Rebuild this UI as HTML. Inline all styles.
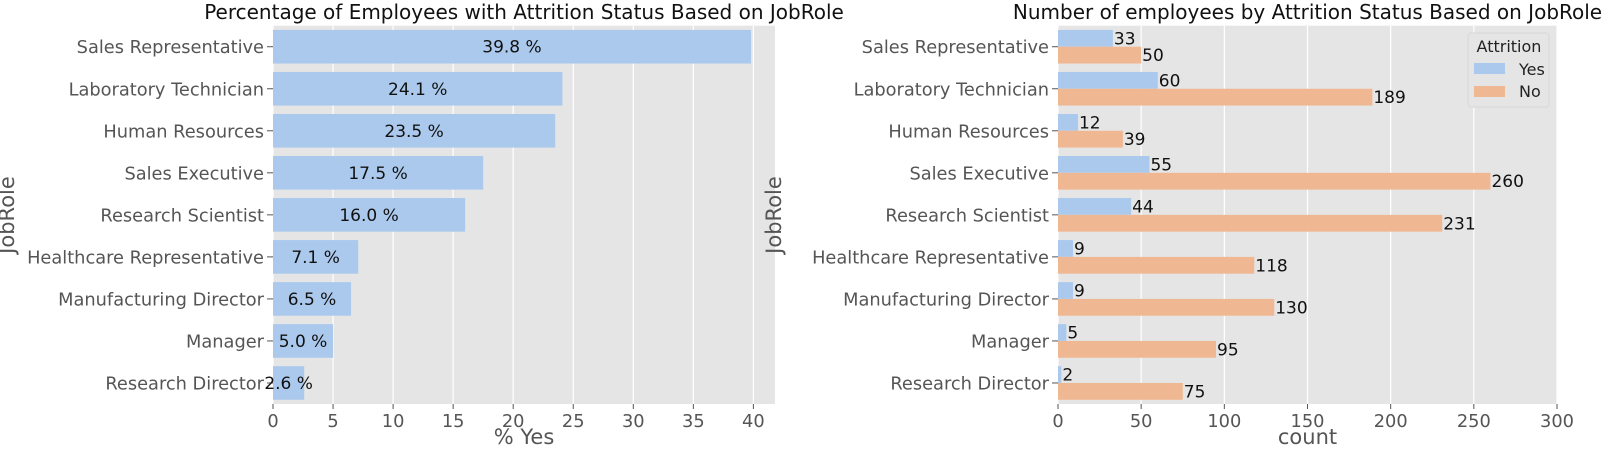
<!DOCTYPE html>
<html><head><meta charset="utf-8"><style>
body{margin:0;background:#fff;}
svg{display:block;font-family:"DejaVu Sans","Liberation Sans",sans-serif;}
</style></head><body>
<svg id="c" width="1609" height="455" viewBox="0 0 1609 455" xmlns="http://www.w3.org/2000/svg"></svg>
<script>
const roles = ["Sales Representative","Laboratory Technician","Human Resources","Sales Executive","Research Scientist","Healthcare Representative","Manufacturing Director","Manager","Research Director"];
const pctYes = [39.8,24.1,23.5,17.5,16.0,7.1,6.5,5.0,2.6];
const countYes = [33,60,12,55,44,9,9,5,2];
const countNo = [50,189,39,260,231,118,130,95,75];
const leftTicks = [0,5,10,15,20,25,30,35,40];
const rightTicks = [0,50,100,150,200,250,300];

const NS="http://www.w3.org/2000/svg";
const svg=document.getElementById('c');
function el(tag,attrs,parent,text){const e=document.createElementNS(NS,tag);for(const k in attrs)e.setAttribute(k,attrs[k]);if(text!==undefined)e.textContent=text;(parent||svg).appendChild(e);return e;}

const plotTop=25.7,plotBottom=404,pitch=(plotBottom-plotTop)/9;
function yc(i){return plotTop+pitch*(i+0.5);}

function panel(name,x0,x1,xmax,ticks,title,xlabel){
  const g=el('g',{},svg);
  
  
  const xs=v=>x0+(x1-x0)*v/xmax;
  const bg=el('rect',{x:x0,y:plotTop,width:x1-x0,height:plotBottom-plotTop,fill:'#e5e5e5'},g);
  
  
  ticks.forEach(t=>{
    const gl=el('line',{x1:xs(t),x2:xs(t),y1:plotTop,y2:plotBottom,stroke:'#fff','stroke-width':1.2},g);
    
    
    el('line',{x1:xs(t),x2:xs(t),y1:plotBottom,y2:plotBottom+5,stroke:'#555','stroke-width':1},g);
    const tl=el('text',{x:xs(t),y:plotBottom+23,'text-anchor':'middle','font-size':17.8,fill:'#555'},g,String(t));
    
    
  });
  roles.forEach((r,i)=>{
    el('line',{x1:x0-6,x2:x0,y1:yc(i),y2:yc(i),stroke:'#555','stroke-width':1},g);
    const tl=el('text',{x:x0-9,y:yc(i)+6.5,'text-anchor':'end','font-size':17.8,fill:'#555'},g,r);
    
    
  });
  const t=el('text',{x:(x0+x1)/2,y:19,'text-anchor':'middle','font-size':20,fill:'#111'},g,title);
  
  
  const xl=el('text',{x:(x0+x1)/2,y:444,'text-anchor':'middle','font-size':21,fill:'#555'},g,xlabel);
  
  
  const yl=el('text',{x:0,y:0,'text-anchor':'middle','font-size':21,fill:'#555',transform:`translate(${name==='left-chart'?14:781},215) rotate(-90)`},g,'JobRole');
  
  
  return {g,xs};
}

const L=panel('left-chart',273,775,41.8,leftTicks,'Percentage of Employees with Attrition Status Based on JobRole','% Yes');
pctYes.forEach((v,i)=>{
  const h=pitch*0.8;
  const b=el('rect',{x:L.xs(0),y:yc(i)-h/2,width:L.xs(v)-L.xs(0),height:h,fill:'#abc9ed'},L.g);
  
  
  const lb=el('text',{x:(L.xs(0)+L.xs(v))/2,y:yc(i)+6,'text-anchor':'middle','font-size':17,fill:'#111'},L.g,v.toFixed(1)+' %');
  
  
});

const R=panel('right-chart',1058,1557,300,rightTicks,'Number of employees by Attrition Status Based on JobRole','count');
const bh=pitch*0.4;
countYes.forEach((v,i)=>{
  const b=el('rect',{x:R.xs(0),y:yc(i)-bh,width:R.xs(v)-R.xs(0),height:bh,fill:'#abc9ed'},R.g);
  
  
  const lb=el('text',{x:R.xs(v)+1,y:yc(i)-bh/2+6,'font-size':17,fill:'#111'},R.g,String(v));
  
  
});
countNo.forEach((v,i)=>{
  const b=el('rect',{x:R.xs(0),y:yc(i),width:R.xs(v)-R.xs(0),height:bh,fill:'#f0b892'},R.g);
  
  
  const lb=el('text',{x:R.xs(v)+1,y:yc(i)+bh/2+6,'font-size':17,fill:'#111'},R.g,String(v));
  
  
});
const lg=el('g',{},R.g);


el('rect',{x:1468,y:33,width:81,height:74,rx:3,fill:'#e5e5e5',stroke:'#d8d8d8','stroke-width':1},lg);
el('text',{x:1509,y:52,'text-anchor':'middle','font-size':16,fill:'#222'},lg,'Attrition');
const e1=el('g',{},lg);


el('rect',{x:1474,y:63,width:31,height:11,fill:'#abc9ed'},e1);
el('text',{x:1519,y:75,'font-size':16,fill:'#222'},e1,'Yes');
const e2=el('g',{},lg);


el('rect',{x:1474,y:86,width:31,height:11,fill:'#f0b892'},e2);
el('text',{x:1519,y:97,'font-size':16,fill:'#222'},e2,'No');
</script>
</body></html>
